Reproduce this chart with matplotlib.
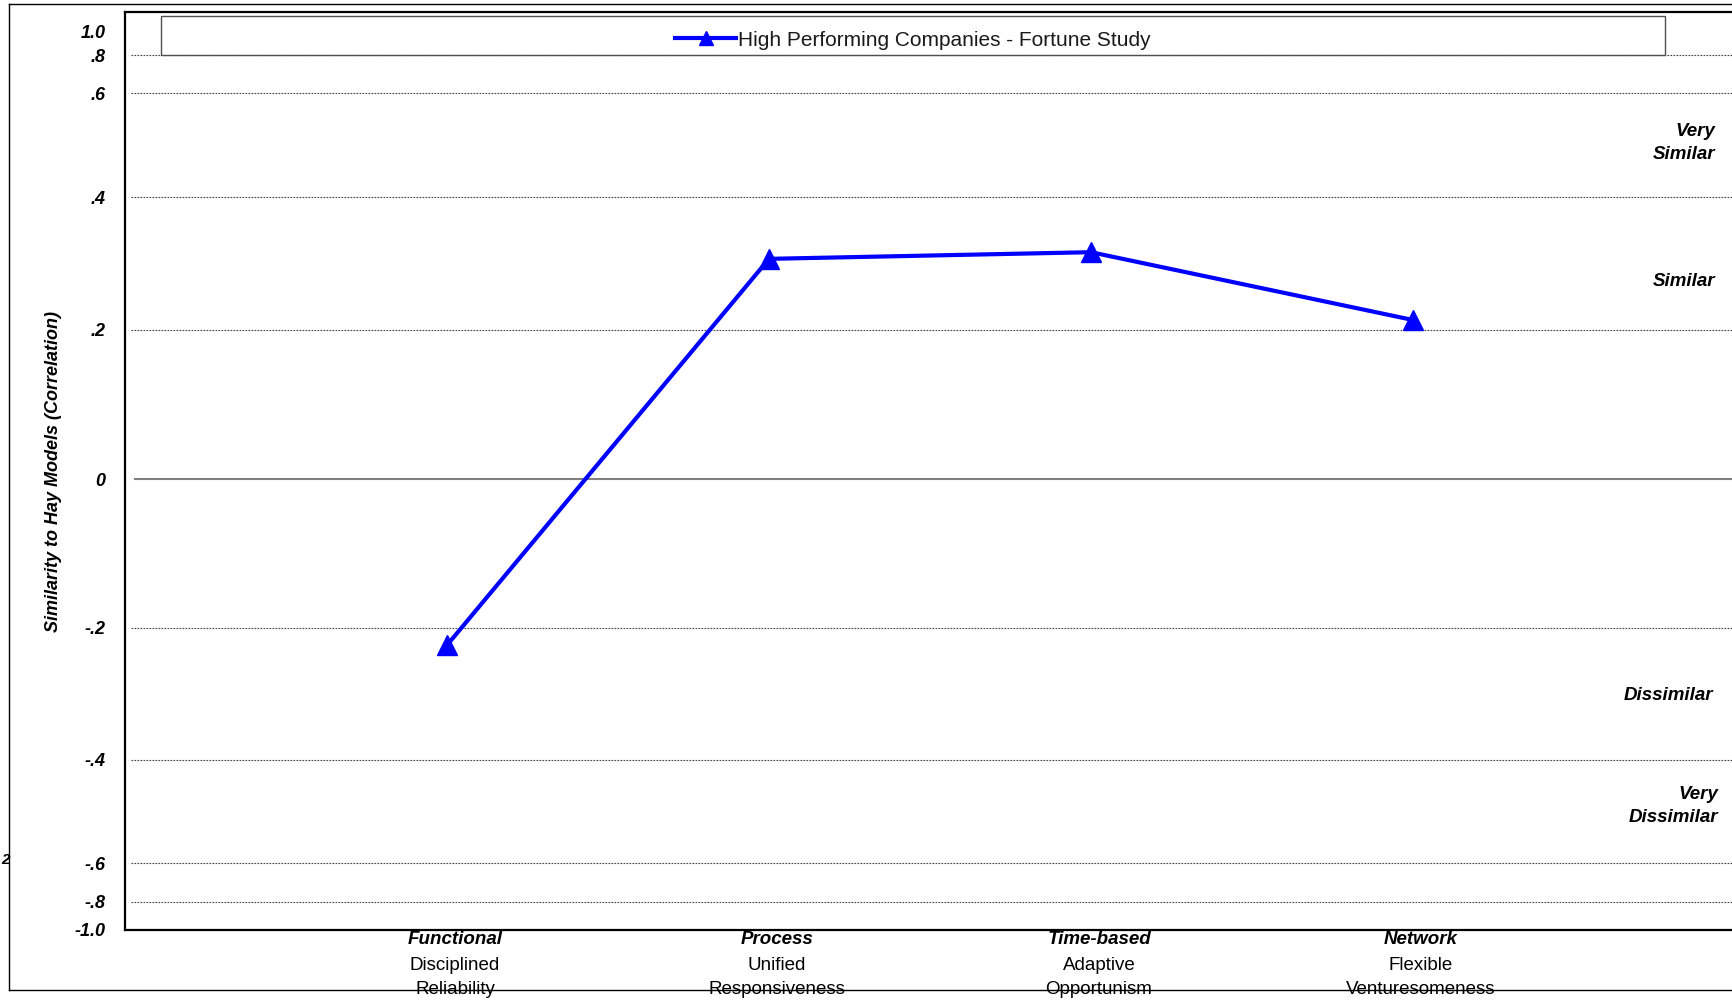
import numpy as np
import matplotlib
matplotlib.use('Agg')
import matplotlib.pyplot as plt
from matplotlib.lines import Line2D
from matplotlib.patches import Rectangle

plt.rcParams['font.family'] = ['Liberation Sans', 'DejaVu Sans']

categories = ['Functional', 'Process', 'Time-based', 'Network']
subtitles = [['Disciplined', 'Reliability'], ['Unified', 'Responsiveness'],
             ['Adaptive', 'Opportunism'], ['Flexible', 'Venturesomeness']]
correlation = [-0.226, 0.307, 0.317, 0.215]
series_name = 'High Performing Companies - Fortune Study'

tick_values = [-1.0, -0.8, -0.6, -0.4, -0.2, 0, 0.2, 0.4, 0.6, 0.8, 1.0]
tick_labels = ['-1.0', '-.8', '-.6', '-.4', '-.2', '0', '.2', '.4', '.6', '.8', '1.0']
grid_values = [-0.8, -0.6, -0.4, -0.2, 0.2, 0.4, 0.6, 0.8]
band_labels = ['Very\nSimilar', 'Similar', 'Dissimilar', 'Very\nDissimilar']

W, H = 1732, 1000

knot_vals = [-1.0, -0.8, -0.6, -0.4, -0.2, 0, 0.2, 0.4, 0.6, 0.8, 1.0, 1.1]
knot_pos = [0, 28, 67, 170, 302, 451, 600, 733, 837, 875, 898, 918]

def fwd(v):
    return np.interp(v, knot_vals, knot_pos)

def inv(p):
    return np.interp(p, knot_pos, knot_vals)

def fx(px):
    return px / W

def fy(py):
    return 1 - py / H

fig = plt.figure(figsize=(W / 100, H / 100), dpi=100)
ax = fig.add_axes([fx(125), fy(930), fx(W - 125), 918 / H])
ax.set_yscale('function', functions=(fwd, inv))
ax.set_ylim(-1.0, 1.1)
ax.set_xlim(0, (W - 125) / 322)

for v in grid_values:
    ax.axhline(v, xmin=0.004, color='#404040', lw=0.8, ls=(0, (1.5, 1.2)), zorder=1)
ax.axhline(0, xmin=0.006, color='#808080', lw=1.5, zorder=1)

x = np.arange(1, len(categories) + 1)
line, = ax.plot(x, correlation, color='#0000FF', lw=3, marker='^', ms=15,
                clip_on=False, zorder=3, label=series_name)

ax.set_yticks(tick_values, tick_labels)
ax.tick_params(axis='y', length=0, pad=14)
for t in ax.get_yticklabels():
    t.set_fontsize(13)
    t.set_fontweight('bold')
    t.set_fontstyle('italic')
ax.set_xticks([])
ax.set_ylabel('Similarity to Hay Models (Correlation)', fontsize=13, fontweight='bold',
              fontstyle='italic')
ax.yaxis.set_label_coords((62 - 125) / (W - 125), 0.5)

for side in ['left', 'bottom', 'top']:
    ax.spines[side].set_linewidth(1.6)
ax.spines['right'].set_visible(False)

trans = ax.get_xaxis_transform()
for i, (cat, sub) in enumerate(zip(categories, subtitles)):
    ax.text(x[i] + 0.025, (930 - 940) / 918, cat, transform=trans, ha='center', va='center',
            fontsize=13.5, fontweight='bold', fontstyle='italic', clip_on=False)
    for j, s in enumerate(sub):
        ax.text(x[i] + 0.025, (930 - 965 - 24 * j) / 918, s, transform=trans, ha='center',
                va='center', fontsize=13.5, clip_on=False)

band_pos = [(1715, 143), (1715, 282), (1713, 696), (1718, 806)]
for lab, (px, py) in zip(band_labels, band_pos):
    fig.text(fx(px), fy(py), lab, ha='right', va='center', multialignment='right',
             fontsize=13.5, fontweight='bold', fontstyle='italic', linespacing=1.45)

leg = ax.legend(handles=[line], loc='center', bbox_to_anchor=(fx(913), fy(40)),
                bbox_transform=fig.transFigure, frameon=False, fontsize=15,
                handlelength=2.9, handletextpad=0.1, markerscale=0.7)
for t in leg.get_texts():
    t.set_color('#1a1a1a')
fig.add_artist(Rectangle((fx(161), fy(55)), fx(1665 - 161), 39 / H, transform=fig.transFigure,
                         facecolor='none', edgecolor='#505050', lw=1))

# outer frame around the whole slide
fig.add_artist(Line2D([fx(9), fx(9)], [fy(4), fy(990)], color='black', lw=1))
fig.add_artist(Line2D([fx(9), 1], [fy(4), fy(4)], color='black', lw=1))
fig.add_artist(Line2D([fx(9), 1], [fy(990), fy(990)], color='black', lw=1))
fig.text(fx(5), fy(860), '2', ha='center', va='center', fontsize=11, fontweight='bold',
         fontstyle='italic')

fig.savefig('out.png', dpi=100)
